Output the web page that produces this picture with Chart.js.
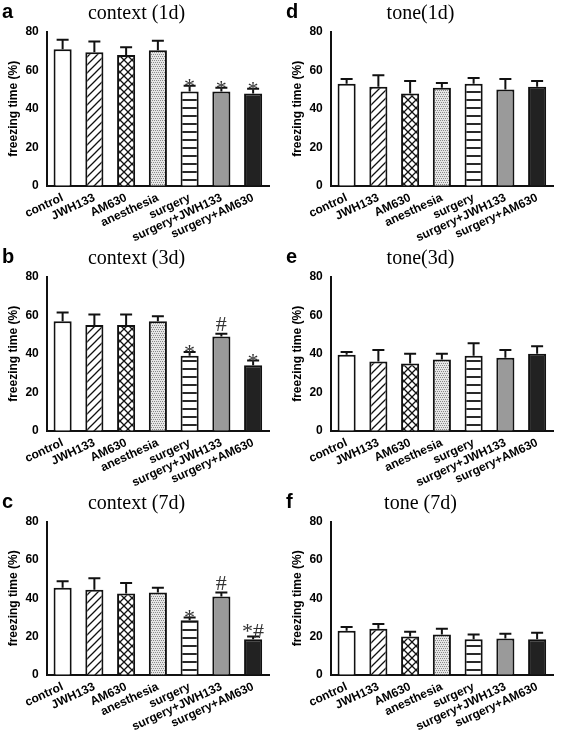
<!DOCTYPE html>
<html>
<head>
<meta charset="utf-8">
<script src="https://cdn.jsdelivr.net/npm/chart.js@4.4.0/dist/chart.umd.min.js"></script>
<style>
  body { margin: 0; background: #fff; }
  .panel { position: absolute; width: 283px; height: 245px; }
</style>
</head>
<body>
<div class="panel" style="left:0;top:0"><canvas id="a" width="283" height="245"></canvas></div>
<div class="panel" style="left:284px;top:0"><canvas id="d" width="283" height="245"></canvas></div>
<div class="panel" style="left:0;top:245px"><canvas id="b" width="283" height="245"></canvas></div>
<div class="panel" style="left:284px;top:245px"><canvas id="e" width="283" height="245"></canvas></div>
<div class="panel" style="left:0;top:490px"><canvas id="c" width="283" height="244"></canvas></div>
<div class="panel" style="left:284px;top:490px"><canvas id="f" width="283" height="244"></canvas></div>
<script>
const groups = ["control", "JWH133", "AM630", "anesthesia", "surgery", "surgery+JWH133", "surgery+AM630"];
const yTicks = [0, 20, 40, 60, 80];

// mean and SEM for each panel
const ctx1dMean = [71, 69.5, 68, 70.5, 49, 49, 48];
const ctx1dErr = [5, 5.5, 4, 5, 3, 2, 2.5];
const ctx1dMark = ["", "", "", "", "*", "*", "*"];
const ctx3dMean = [57, 55, 55, 57, 39, 49, 34];
const ctx3dErr = [4.5, 5.5, 5.5, 2.5, 2, 1.5, 2.5];
const ctx3dMark = ["", "", "", "", "*", "#", "*"];
const ctx7dMean = [45.5, 44.5, 42.5, 43, 28.5, 41, 18.5];
const ctx7dErr = [3.5, 6, 5.5, 2.5, 1.5, 2, 1.5];
const ctx7dMark = ["", "", "", "", "*", "#", "*#"];
const tone1dMean = [53, 51.5, 48, 51, 53, 50, 51.5];
const tone1dErr = [2.5, 6, 6.5, 2.5, 3, 5.5, 3];
const tone3dMean = [39.5, 36, 35, 37, 39, 38, 40];
const tone3dErr = [1.5, 6, 5, 3, 6.5, 4, 4];
const tone7dMean = [23, 24, 20, 21, 18.5, 19, 18.5];
const tone7dErr = [2, 2.5, 2.5, 3, 2.5, 2.5, 3.5];
const noMark = ["", "", "", "", "", "", ""];

// fill patterns
function makePattern(kind) {
  const c = document.createElement("canvas");
  c.width = 8; c.height = 8;
  const g = c.getContext("2d");
  g.fillStyle = "#fff"; g.fillRect(0, 0, 8, 8);
  g.strokeStyle = "#111"; g.lineWidth = 1.3;
  if (kind == "diag") {
    g.beginPath(); g.moveTo(0, 8); g.lineTo(8, 0); g.moveTo(-2, 2); g.lineTo(2, -2); g.moveTo(6, 10); g.lineTo(10, 6); g.stroke();
  } else if (kind == "cross") {
    g.beginPath(); g.moveTo(0, 8); g.lineTo(8, 0); g.moveTo(0, 0); g.lineTo(8, 8); g.stroke();
  } else if (kind == "dots") {
    g.fillStyle = "#e6e6e6"; g.fillRect(0, 0, 8, 8);
    g.fillStyle = "#888";
    for (let i = 0; i < 8; i += 2) for (let j = 0; j < 8; j += 2) g.fillRect(i + (j % 4 ? 1 : 0), j, 1, 1);
  } else if (kind == "horiz") {
    g.beginPath(); g.moveTo(0, 4); g.lineTo(8, 4); g.lineWidth = 1.8; g.stroke();
  }
  return g.createPattern(c, "repeat");
}
const fills = ["#fff", makePattern("diag"), makePattern("cross"), makePattern("dots"), makePattern("horiz"), "#9a9a9a", "#222"];

const errorBars = {
  id: "errorBars",
  afterDatasetsDraw(chart) {
    const { ctx } = chart;
    const meta = chart.getDatasetMeta(0);
    const y = chart.scales.y;
    const o = chart.options.plugins.errorBars;
    ctx.save();
    ctx.strokeStyle = "#111"; ctx.lineWidth = 2;
    meta.data.forEach((bar, i) => {
      const top = y.getPixelForValue(o.mean[i] + o.err[i]);
      ctx.beginPath();
      ctx.moveTo(bar.x, bar.y); ctx.lineTo(bar.x, top);
      ctx.moveTo(bar.x - 6, top); ctx.lineTo(bar.x + 6, top);
      ctx.stroke();
      const m = o.mark[i];
      if (m) {
        ctx.fillStyle = "#333";
        ctx.font = "22px 'Liberation Serif'";
        ctx.textAlign = "center"; ctx.textBaseline = "alphabetic";
        let dy = m == "#" ? -3 : (m == "*" ? 7 : 2);
        ctx.fillText(m, bar.x, top + dy);
      }
    });
    ctx.fillStyle = "#000";
    ctx.font = "bold 20px 'Liberation Sans'";
    ctx.textAlign = "left"; ctx.textBaseline = "top";
    ctx.fillText(o.letter, 2, 2);
    ctx.restore();
  }
};

function makeChart(id, letter, title, mean, err, mark) {
  new Chart(document.getElementById(id), {
    type: "bar",
    data: {
      labels: groups,
      datasets: [{
        data: mean,
        backgroundColor: fills,
        borderColor: "#111",
        borderWidth: 2,
        borderSkipped: "bottom",
        barPercentage: 0.6,
        categoryPercentage: 0.95,
      }],
    },
    options: {
      responsive: false,
      animation: false,
      layout: { padding: { left: 4, right: 14, top: 0, bottom: 0 } },
      plugins: {
        legend: { display: false },
        tooltip: { enabled: false },
        title: {
          display: true,
          text: title,
          font: { family: "'Liberation Serif'", size: 20, weight: "normal" },
          color: "#000",
          padding: { top: 2, bottom: 6 },
        },
        errorBars: { mean: mean, err: err, mark: mark, letter: letter },
      },
      scales: {
        x: {
          grid: { display: false, drawTicks: true, tickLength: 5, color: "#111" },
          border: { color: "#111", width: 2 },
          ticks: { color: "#000", autoSkip: false, font: { family: "'Liberation Sans'", weight: "bold", size: 12 }, maxRotation: 25, minRotation: 25, padding: 0 },
        },
        y: {
          min: 0, max: 80,
          afterBuildTicks: (s) => { s.ticks = yTicks.map((v) => ({ value: v })); },
          grid: { display: false, drawTicks: true, tickLength: 5, color: "#111" },
          border: { color: "#111", width: 2 },
          ticks: { color: "#000", font: { family: "'Liberation Sans'", weight: "bold", size: 12 } },
          title: { display: true, text: "freezing time (%)", color: "#000", font: { family: "'Liberation Sans'", weight: "bold", size: 12 }, padding: 2 },
        },
      },
    },
    plugins: [errorBars],
  });
}

makeChart("a", "a", "context (1d)", ctx1dMean, ctx1dErr, ctx1dMark);
makeChart("b", "b", "context (3d)", ctx3dMean, ctx3dErr, ctx3dMark);
makeChart("c", "c", "context (7d)", ctx7dMean, ctx7dErr, ctx7dMark);
makeChart("d", "d", "tone(1d)", tone1dMean, tone1dErr, noMark);
makeChart("e", "e", "tone(3d)", tone3dMean, tone3dErr, noMark);
makeChart("f", "f", "tone (7d)", tone7dMean, tone7dErr, noMark);
</script>
</body>
</html>
